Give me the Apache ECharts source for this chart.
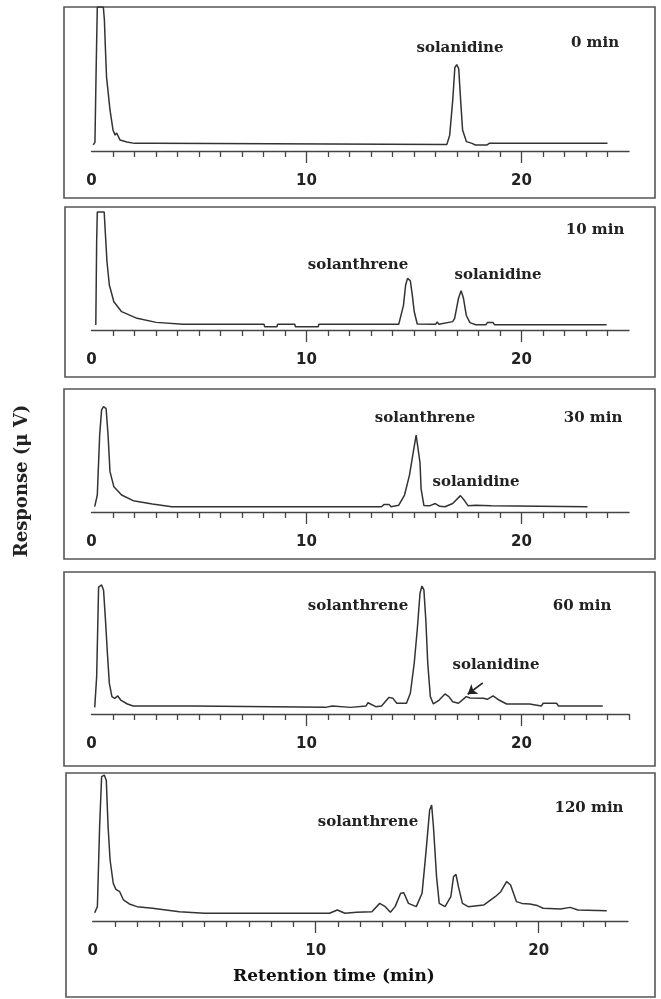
<!DOCTYPE html>
<html>
<head>
<meta charset="utf-8">
<script src="https://cdn.jsdelivr.net/npm/echarts@6/dist/echarts.min.js"></script>
<style>
html,body{margin:0;padding:0;background:#fff;}
#chart{width:661px;height:999px;}
</style>
</head>
<body>
<div id="chart"></div>
<script>
// retention time (min) and detector response (relative, 100 = top of panel)
var time0 = [0.08, 0.16, 0.22, 0.27, 0.55, 0.6, 0.65, 0.7, 0.78, 0.86, 1.0, 1.1, 1.17, 1.33, 1.64, 2.0, 2.85, 2.9, 16.53, 16.66, 16.8, 16.9, 16.99, 17.08, 17.17, 17.26, 17.44, 17.7, 17.85, 18.4, 18.5, 24.0];
var resp0 = [4.2, 6, 60, 100, 100, 91, 70, 51.4, 40, 28.5, 14.6, 11, 12.5, 7.6, 6.3, 5.3, 5.3, 4.6, 4.6, 11, 35, 58, 60, 57, 35, 14.6, 6.5, 5.3, 4.2, 4.2, 5.3, 5.3];

var time10 = [0.2, 0.24, 0.27, 0.59, 0.65, 0.72, 0.83, 1.04, 1.4, 2.12, 3.01, 4.26, 8.03, 8.05, 8.63, 8.65, 9.46, 9.48, 10.55, 10.57, 14.29, 14.51, 14.61, 14.7, 14.83, 14.92, 15.01, 15.15, 16.0, 16.08, 16.16, 16.8, 16.89, 17.07, 17.19, 17.3, 17.43, 17.6, 17.87, 18.35, 18.41, 18.68, 18.74, 23.96];
var resp10 = [4, 72, 96, 96, 77, 55.5, 36.6, 23, 14.9, 9.5, 6.2, 4.6, 4.6, 2.7, 2.7, 4.6, 4.6, 2.7, 2.7, 4.6, 4.6, 20, 36.6, 42, 40, 28.5, 15, 4.9, 4.6, 6.5, 4.6, 6.8, 9.5, 25.8, 32, 26, 12, 6, 4.3, 4.3, 6, 6, 4.3, 4.3];

var time30 = [0.15, 0.27, 0.38, 0.47, 0.56, 0.68, 0.77, 0.86, 1.04, 1.4, 1.94, 2.83, 3.73, 13.49, 13.6, 13.85, 13.93, 14.02, 14.29, 14.56, 14.79, 14.97, 15.1, 15.19, 15.28, 15.33, 15.46, 15.72, 15.99, 16.2, 16.44, 16.8, 17.16, 17.34, 17.52, 17.87, 18.59, 18.65, 23.07];
var resp30 = [4.3, 13.8, 62.6, 83, 85.6, 84, 62.6, 32.8, 20.6, 13.8, 9.2, 6.5, 4.3, 4.3, 6, 6, 4.3, 4.3, 5.5, 13.8, 30, 49, 62.6, 63.1, 40, 18.7, 5.3, 5, 6.9, 4.6, 4.3, 6.9, 13.3, 9.5, 5, 5.5, 5, 4.3, 4.3];

var time60 = [0.15, 0.24, 0.33, 0.47, 0.56, 0.65, 0.74, 0.83, 0.95, 1.08, 1.22, 1.36, 1.67, 1.94, 4.71, 4.75, 10.89, 10.95, 11.2, 11.25, 12.05, 12.1, 12.77, 12.86, 13.22, 13.49, 13.84, 14.02, 14.2, 14.65, 14.83, 15.01, 15.15, 15.28, 15.37, 15.46, 15.55, 15.64, 15.76, 15.9, 16.17, 16.44, 16.62, 16.8, 17.07, 17.43, 17.6, 18.23, 18.41, 18.68, 18.95, 19.31, 20.38, 20.42, 20.92, 21.01, 21.63, 21.72, 23.78];
var resp60 = [4.7, 26.5, 90, 91.5, 88, 66.7, 43, 21.7, 12.3, 11.1, 12.8, 9.9, 7.1, 5.7, 5.7, 4.7, 4.7, 5.7, 5.7, 4.7, 4.7, 5.7, 5.7, 8, 5.2, 5.7, 11.8, 11.1, 7.6, 7.6, 14.7, 36, 59.6, 85.6, 90.8, 88, 66.7, 36, 12.3, 7.1, 9.9, 14.2, 12.3, 8.7, 7.6, 12.3, 11.3, 11.1, 10.4, 12.8, 9.9, 7.1, 7.1, 5.7, 5.7, 7.6, 7.6, 5.7, 5.7];

var time120 = [0.09, 0.21, 0.31, 0.4, 0.52, 0.61, 0.69, 0.78, 0.92, 1.04, 1.12, 1.21, 1.38, 1.64, 1.99, 2.68, 3.89, 5.01, 10.62, 10.97, 11.31, 11.83, 12.52, 12.87, 13.12, 13.35, 13.56, 13.81, 13.95, 14.16, 14.51, 14.77, 14.94, 15.11, 15.2, 15.28, 15.42, 15.54, 15.8, 16.06, 16.18, 16.29, 16.4, 16.58, 16.84, 17.53, 18.05, 18.3, 18.56, 18.74, 19.0, 19.25, 19.6, 19.94, 20.2, 20.98, 21.41, 21.76, 23.05];
var resp120 = [5.6, 9.7, 63.7, 97.5, 98.6, 95, 63.7, 41.2, 25.5, 21.4, 22.7, 19.8, 14.2, 11.5, 9.7, 8.6, 6.3, 5.2, 5.2, 7.4, 5.2, 5.9, 6.3, 11.9, 9.7, 5.9, 9.7, 18.7, 19.1, 11.9, 9.7, 18.7, 45.7, 75, 78.4, 63.7, 29.9, 11.9, 9.7, 16.4, 29.9, 31.5, 23.2, 11.9, 9.7, 10.8, 16.4, 19.8, 26.6, 24.3, 13.1, 11.9, 11.5, 10.4, 8.6, 8.1, 9.2, 7.4, 7];

// solanidine arrow in the 60 min trace: [time, response]
var arrowFrom = [18.2, 22];
var arrowTo = [17.5, 14];

var tickLabels = [0, 10, 20];
var majorTicks = [10, 20];
var minorTicks24 = [1, 2, 3, 4, 5, 6, 7, 8, 9, 11, 12, 13, 14, 15, 16, 17, 18, 19, 21, 22, 23, 24];
var minorTicks25 = [1, 2, 3, 4, 5, 6, 7, 8, 9, 11, 12, 13, 14, 15, 16, 17, 18, 19, 21, 22, 23, 24, 25];
var minorTicks23 = [1, 2, 3, 4, 5, 6, 7, 8, 9, 11, 12, 13, 14, 15, 16, 17, 18, 19, 21, 22, 23];

var traces = [
    {t: time0, r: resp0, minor: minorTicks24},
    {t: time10, r: resp10, minor: minorTicks24},
    {t: time30, r: resp30, minor: minorTicks24},
    {t: time60, r: resp60, minor: minorTicks25},
    {t: time120, r: resp120, minor: minorTicks23}
];

// panel layout (pixels)
var layout = [
    {top: 7, height: 144, left: 91.5, width: 537.5, max: 25, box: [64, 7, 591, 191]},
    {top: 207, height: 123, left: 91.5, width: 537.5, max: 25, box: [65, 207, 590, 170]},
    {top: 389, height: 123, left: 91.5, width: 537.5, max: 25, box: [64, 389, 591, 170]},
    {top: 573, height: 141, left: 91.5, width: 537.5, max: 25, box: [64, 572, 591, 194]},
    {top: 773, height: 148, left: 92.7, width: 535.2, max: 24, box: [66, 773, 589, 224]}
];

var notes = [
    {text: "solanidine", x: 460, y: 48},
    {text: "0 min", x: 595, y: 43},
    {text: "10 min", x: 595, y: 230},
    {text: "solanthrene", x: 358, y: 265},
    {text: "solanidine", x: 498, y: 275},
    {text: "30 min", x: 593, y: 418},
    {text: "solanthrene", x: 425, y: 418},
    {text: "solanidine", x: 476, y: 482},
    {text: "60 min", x: 582, y: 606},
    {text: "solanthrene", x: 358, y: 606},
    {text: "solanidine", x: 496, y: 665},
    {text: "120 min", x: 589, y: 808},
    {text: "solanthrene", x: 368, y: 822}
];

var axisColor = "#444";
var grids = [], xAxes = [], yAxes = [], series = [], graphics = [];

for (var i = 0; i < layout.length; i++) {
    var L = layout[i];
    grids.push({left: L.left, top: L.top, width: L.width, height: L.height});
    // axis line, 1 min ticks and labels
    xAxes.push({
        type: "value", gridIndex: i, min: 0, max: L.max, position: "bottom",
        axisLine: {show: true, onZero: false, lineStyle: {color: axisColor, width: 1.4}},
        axisTick: {show: true, customValues: traces[i].minor, length: 6, lineStyle: {color: axisColor, width: 1.3}},
        axisLabel: {customValues: tickLabels, margin: 23, fontFamily: "DejaVu Sans", fontWeight: "bold", fontSize: 15, color: "#222"},
        splitLine: {show: false}
    });
    // long ticks at 10 and 20
    xAxes.push({
        type: "value", gridIndex: i, min: 0, max: L.max, position: "bottom",
        axisLine: {show: false},
        axisTick: {show: true, customValues: majorTicks, length: 12, lineStyle: {color: axisColor, width: 1.3}},
        axisLabel: {show: false},
        splitLine: {show: false}
    });
    yAxes.push({type: "value", gridIndex: i, min: 0, max: 100, show: false});

    var pts = [];
    for (var j = 0; j < traces[i].t.length; j++) {
        pts.push([traces[i].t[j], traces[i].r[j]]);
    }
    var s = {
        type: "line", xAxisIndex: 2 * i, yAxisIndex: i, data: pts,
        showSymbol: false, symbol: "none", animation: false,
        lineStyle: {color: "#333", width: 1.5}
    };
    if (i === 3) {
        s.markLine = {
            silent: true, symbol: ["none", "arrow"], symbolSize: 9, animation: false,
            label: {show: false},
            lineStyle: {color: "#222", width: 1.6, type: "solid"},
            data: [[{coord: arrowFrom}, {coord: arrowTo}]]
        };
    }
    series.push(s);

    graphics.push({
        type: "rect", silent: true, z: 0,
        shape: {x: L.box[0], y: L.box[1], width: L.box[2], height: L.box[3]},
        style: {fill: "none", stroke: "#555", lineWidth: 1.6}
    });
}

notes.forEach(function (n) {
    graphics.push({
        type: "text", x: n.x, y: n.y, silent: true,
        style: {
            text: n.text, align: "center", verticalAlign: "middle",
            textAlign: "center", textVerticalAlign: "middle",
            fontFamily: "DejaVu Serif", fontWeight: "bold", fontSize: 15, fill: "#222"
        }
    });
});

// x axis title (sits left of the axis centre in the original)
graphics.push({
    type: "text", x: 334, y: 977, silent: true,
    style: {
        text: "Retention time (min)", align: "center", verticalAlign: "middle",
        textAlign: "center", textVerticalAlign: "middle",
        fontFamily: "DejaVu Serif", fontWeight: "bold", fontSize: 17, fill: "#111"
    }
});

graphics.push({
    type: "text", x: 22, y: 481, rotation: Math.PI / 2, silent: true,
    style: {
        text: "Response (\u03bc V)", align: "center", verticalAlign: "middle",
        textAlign: "center", textVerticalAlign: "middle",
        fontFamily: "DejaVu Serif", fontWeight: "bold", fontSize: 18, fill: "#222"
    }
});

var chart = echarts.init(document.getElementById("chart"));
chart.setOption({
    backgroundColor: "#fff",
    animation: false,
    grid: grids,
    xAxis: xAxes,
    yAxis: yAxes,
    series: series,
    graphic: graphics
});
</script>
</body>
</html>
